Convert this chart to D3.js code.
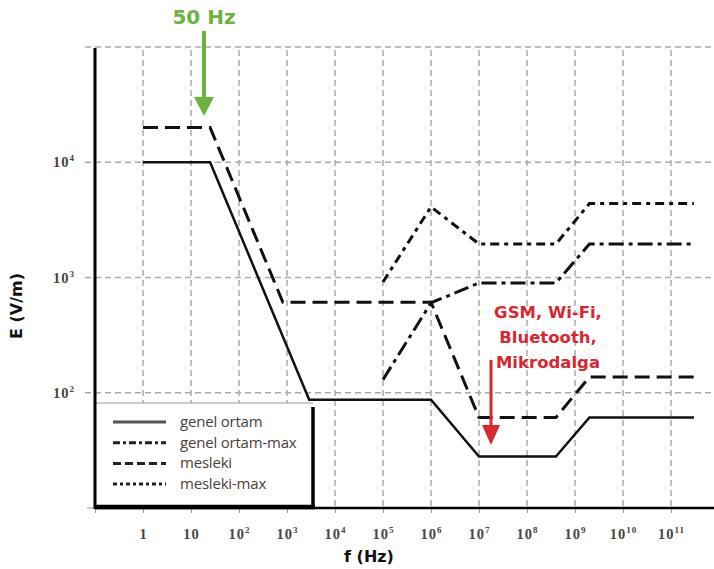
<!DOCTYPE html>
<html>
<head>
<meta charset="utf-8">
<script src="https://cdn.jsdelivr.net/npm/d3@7"></script>
<style>
  body { margin: 0; background: #fff; }
  svg { display: block; }
</style>
</head>
<body>
<svg id="chart"></svg>
<script>
// data (ICNIRP style limits)
var genelFreq  = [1, 25, 2900, 1e6, 1e7, 4e8, 2e9, 3e11];
var genelE     = [10000, 10000, 87, 87, 28, 28, 61, 61];
var meslekiFreq = [1, 25, 820, 1e6, 1e7, 4e8, 2e9, 3e11];
var meslekiE    = [20000, 20000, 610, 610, 61, 61, 137, 137];
var genelMaxFreq = [1e5, 1e6, 1e7, 4e8, 2e9, 3e11];
var genelMaxE    = [130, 603, 896, 896, 1952, 1952];
var meslekiMaxFreq = [1e5, 1e6, 1e7, 4e8, 2e9, 3e11];
var meslekiMaxE    = [915, 4100, 1952, 1952, 4384, 4384];

var xTicks = [0.1, 1, 10, 100, 1e3, 1e4, 1e5, 1e6, 1e7, 1e8, 1e9, 1e10, 1e11];
var xGrid = [1, 10, 100, 1e3, 1e4, 1e5, 1e6, 1e7, 1e8, 1e9, 1e10, 1e11];
var yTicks = [10, 100, 1000, 10000];
var yGrid = [100, 1000, 10000, 100000];
var legendNames = ["genel ortam", "genel ortam-max", "mesleki", "mesleki-max"];

var screen = {width: 714, height: 569};

var svg = d3.select("#chart")
    .attr("width", screen.width)
    .attr("height", screen.height);

var xScale = d3.scaleLog().domain([0.1, 1e12]).range([95, 719]);
var yScale = d3.scaleLog().domain([10, 1e5]).range([508, 47]);

// grid
svg.append("g").selectAll("line")
    .data(yGrid).enter().append("line")
    .attr("x1", 85).attr("x2", 714)
    .attr("y1", function(d){ return yScale(d); })
    .attr("y2", function(d){ return yScale(d); })
    .attr("stroke", "#aaa").attr("stroke-width", 1.5)
    .attr("stroke-dasharray", "6,4");

svg.append("g").selectAll("line")
    .data(xGrid).enter().append("line")
    .attr("x1", function(d){ return xScale(d); })
    .attr("x2", function(d){ return xScale(d); })
    .attr("y1", 50).attr("y2", 508)
    .attr("stroke", "#aaa").attr("stroke-width", 1.5)
    .attr("stroke-dasharray", "6,4");

// superscript tick labels
var supLabel = function(sel){
    sel.selectAll(".tick text").each(function(d){
        var t = d3.select(this);
        var e = Math.round(Math.log10(d));
        t.text(null);
        if (e === 0) { t.text("1"); }
        else if (e === 1) { t.text("10"); }
        else if (e < 0) { t.text(""); }
        else {
            t.append("tspan").text("10");
            t.append("tspan").attr("dy", -6).attr("font-size", 9).text(e);
        }
    });
};

var labelStyle = function(sel){
    sel.attr("font-family", "Liberation Serif, serif")
       .attr("font-size", 14.5).attr("font-weight", "bold")
       .attr("letter-spacing", 1)
       .attr("fill", "#444");
};

var xAxis = d3.axisBottom(xScale).tickValues(xTicks).tickSize(5).tickPadding(16);
var gx = svg.append("g")
    .attr("transform", "translate(0,508)")
    .call(xAxis);
gx.select(".domain").remove();
gx.selectAll(".tick line").attr("stroke", "#999");
gx.selectAll(".tick text").call(labelStyle);
supLabel(gx);

var yAxis = d3.axisLeft(yScale).tickValues(yTicks).tickSize(0).tickPadding(20);
var gy = svg.append("g")
    .attr("transform", "translate(95,0)")
    .call(yAxis);
gy.select(".domain").remove();
gy.selectAll(".tick text").call(labelStyle);
supLabel(gy);
gy.select(".tick text").text("");
svg.append("line").attr("x1", 87).attr("x2", 95)
    .attr("y1", yScale(10)).attr("y2", yScale(10))
    .attr("stroke", "#999");

// legend box (covers grid)
svg.append("rect")
    .attr("x", 95).attr("y", 403).attr("width", 218).attr("height", 105)
    .attr("fill", "#fff");
svg.append("line").attr("x1", 95).attr("x2", 313).attr("y1", 403).attr("y2", 403)
    .attr("stroke", "#999").attr("stroke-width", 1);
svg.append("line").attr("x1", 313).attr("x2", 313).attr("y1", 407).attr("y2", 508)
    .attr("stroke", "#000").attr("stroke-width", 3.5);

// axes lines
svg.append("line").attr("x1", 95).attr("x2", 95).attr("y1", 48).attr("y2", 509)
    .attr("stroke", "#000").attr("stroke-width", 3);
svg.append("line").attr("x1", 95).attr("x2", 714).attr("y1", 508).attr("y2", 508)
    .attr("stroke", "#000").attr("stroke-width", 2.5);
svg.append("line").attr("x1", 95).attr("x2", 315).attr("y1", 507).attr("y2", 507)
    .attr("stroke", "#000").attr("stroke-width", 4.5);

// series
var lineGenerator = d3.line()
    .x(function(d){ return xScale(d[0]); })
    .y(function(d){ return yScale(d[1]); });

var series = [
    {f: genelFreq, e: genelE, dash: null, w: 2.5},
    {f: genelMaxFreq, e: genelMaxE, dash: "15,5,4,5", w: 3},
    {f: meslekiFreq, e: meslekiE, dash: "15,7", w: 3},
    {f: meslekiMaxFreq, e: meslekiMaxE, dash: "9,5,4,5", w: 3}
];

svg.append("g").selectAll("path")
    .data(series).enter().append("path")
    .attr("d", function(s){ return lineGenerator(d3.zip(s.f, s.e)); })
    .attr("fill", "none")
    .attr("stroke", "#111")
    .attr("stroke-width", function(s){ return s.w; })
    .attr("stroke-dasharray", function(s){ return s.dash; });

// legend entries
var legendDash = [null, "7,3,3,3", "8,4", "4,3,3,3"];
var leg = svg.append("g").selectAll("g")
    .data(legendNames).enter().append("g")
    .attr("transform", function(d, i){ return "translate(113," + (422 + i * 20.7) + ")"; });
leg.append("line")
    .attr("x1", 0).attr("x2", 53)
    .attr("stroke", function(d, i){ return i === 0 ? "#555" : "#222"; })
    .attr("stroke-width", 3)
    .attr("stroke-dasharray", function(d, i){ return legendDash[i]; });
leg.append("text")
    .attr("x", 67).attr("y", 5)
    .attr("font-family", "Open Sans, sans-serif")
    .attr("font-size", 15)
    .attr("letter-spacing", -0.2)
    .attr("fill", "#4a403c")
    .text(function(d){ return d; });

// axis titles
svg.append("text")
    .attr("transform", "translate(22,306) rotate(-90)")
    .attr("text-anchor", "middle")
    .attr("font-family", "DejaVu Sans, sans-serif")
    .attr("font-weight", "bold").attr("font-size", 16)
    .attr("fill", "#111")
    .text("E (V/m)");
svg.append("text")
    .attr("x", 369).attr("y", 562)
    .attr("text-anchor", "middle")
    .attr("font-family", "DejaVu Sans, sans-serif")
    .attr("font-weight", "bold").attr("font-size", 16)
    .attr("fill", "#111")
    .text("f (Hz)");

// annotations
var green = "#6cb33e";
svg.append("text")
    .attr("x", 204).attr("y", 24)
    .attr("text-anchor", "middle")
    .attr("font-family", "DejaVu Sans, sans-serif")
    .attr("font-weight", "bold").attr("font-size", 20)
    .attr("fill", green)
    .text("50 Hz");
svg.append("line").attr("x1", 204).attr("x2", 204).attr("y1", 31).attr("y2", 104)
    .attr("stroke", green).attr("stroke-width", 4);
svg.append("path").attr("d", "M194,97 L214,97 L204,116 Z").attr("fill", green);

var red = "#d9262f";
var redLines = ["GSM, Wi-Fi,", "Bluetooth,", "Mikrodalga"];
svg.append("g").selectAll("text")
    .data(redLines).enter().append("text")
    .attr("x", 548)
    .attr("y", function(d, i){ return 318 + i * 25; })
    .attr("text-anchor", "middle")
    .attr("font-family", "DejaVu Sans, sans-serif")
    .attr("font-weight", "bold").attr("font-size", 16.5)
    .attr("fill", red)
    .text(function(d){ return d; });
svg.append("line").attr("x1", 491).attr("x2", 491).attr("y1", 360).attr("y2", 432)
    .attr("stroke", red).attr("stroke-width", 3);
svg.append("path").attr("d", "M482,425 L500,425 L491,445 Z").attr("fill", red);
</script>
</body>
</html>
